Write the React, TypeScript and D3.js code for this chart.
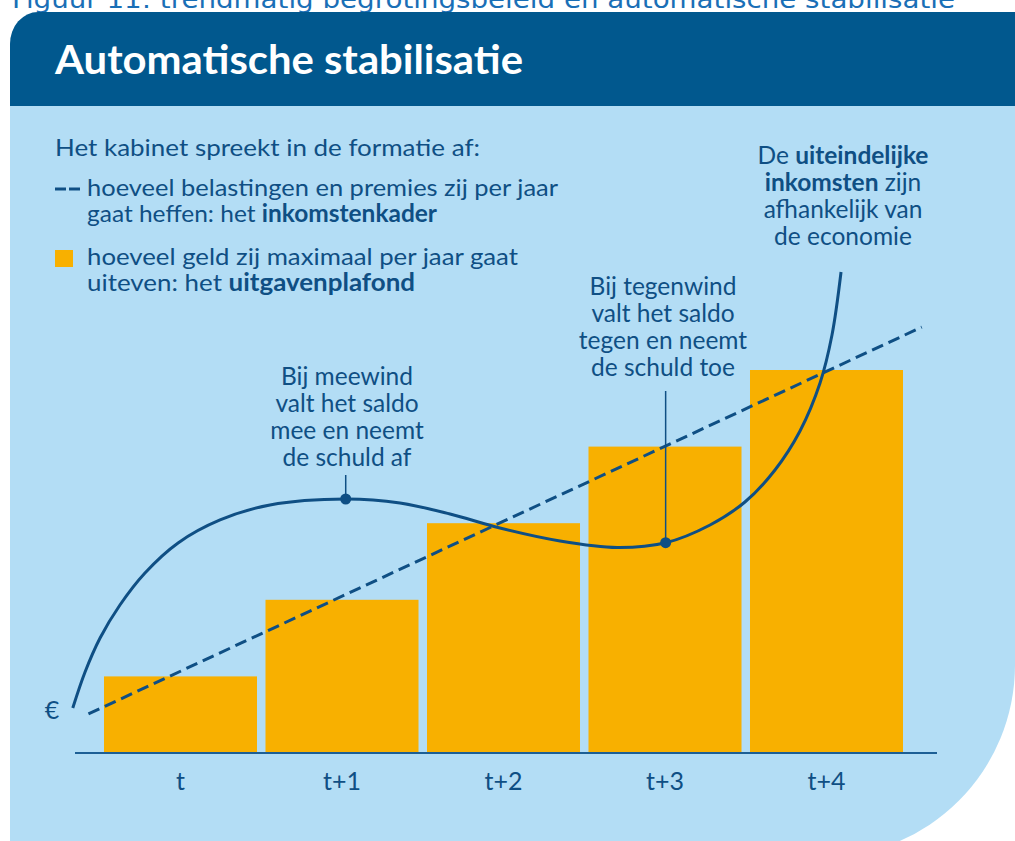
import React from "react";
import * as d3 from "d3";

// ---- Data ----
const categories = ["t", "t+1", "t+2", "t+3", "t+4"];
// uitgavenplafond (bars), arbitrary units
const spendingCeiling = [1, 2, 3, 4, 5];
// inkomstenkader (dashed trend line) — [position in periods, value]
const revenueFramework: [number, number][] = [
  [-0.57, 0.51],
  [4.59, 5.56],
];
// uiteindelijke inkomsten (solid curve) — [position in periods, value]
const actualRevenue: [number, number][] = [
  [-0.667, 0.587],
  [-0.591, 1.057],
  [-0.498, 1.501],
  [-0.375, 1.932],
  [-0.22, 2.35],
  [-0.015, 2.742],
  [0.245, 3.042],
  [0.554, 3.238],
  [1.023, 3.316],
  [1.359, 3.264],
  [1.669, 3.12],
  [1.978, 2.937],
  [2.35, 2.768],
  [2.703, 2.683],
  [3.004, 2.745],
  [3.279, 2.977],
  [3.495, 3.277],
  [3.681, 3.695],
  [3.836, 4.204],
  [3.96, 4.83],
  [4.034, 5.457],
  [4.09, 6.279],
];
// highlighted points on the curve
const markers: [number, number][] = [
  [1.023, 3.316],
  [3.004, 2.745],
];

const captionText = "Figuur 11: trendmatig begrotingsbeleid en automatische stabilisatie";
const titleText = "Automatische stabilisatie";
const legendIntro = "Het kabinet spreekt in de formatie af:";
const legendRevenue = ["hoeveel belastingen en premies zij per jaar", "gaat heffen: het ", "inkomstenkader"];
const legendSpending = ["hoeveel geld zij maximaal per jaar gaat", "uiteven: het ", "uitgavenplafond"];
const noteTailwind = ["Bij meewind", "valt het saldo", "mee en neemt", "de schuld af"];
const noteHeadwind = ["Bij tegenwind", "valt het saldo", "tegen en neemt", "de schuld toe"];
const currencyLabel = "€";

// ---- Style ----
const W = 1015;
const H = 841;
const HEADER = "#01588e";
const PANEL = "#b3ddf5";
const BAR = "#f8b000";
const NAVY = "#0f4f84";
const CAPTION = "#1a6fb6";
const FONT = "Lato, 'Open Sans', sans-serif";

export default function App() {
  const x = d3
    .scaleBand<string>()
    .domain(categories)
    .range([99.75, 907.25])
    .paddingInner(0.0526)
    .paddingOuter(0.0263);
  const y = d3.scaleLinear().domain([0, 5]).range([753, 370]);
  const c0 = (x(categories[0]) as number) + x.bandwidth() / 2;
  const c4 = (x(categories[4]) as number) + x.bandwidth() / 2;
  const xc = d3.scaleLinear().domain([0, 4]).range([c0, c4]);

  const curve = d3
    .line<[number, number]>()
    .x((d) => xc(d[0]))
    .y((d) => y(d[1]))
    .curve(d3.curveCatmullRom.alpha(0.5));
  const straight = d3
    .line<[number, number]>()
    .x((d) => xc(d[0]))
    .y((d) => y(d[1]));

  const headerPath = `M10,106 V44 A28,32 0 0 1 38,12 H${W} V106 Z`;
  const panelPath = `M10,106 H${W} V665 A192,192 0 0 1 823,857 H10 Z`;

  const lh = 27;

  return (
    <svg
      width={W}
      height={H}
      viewBox={`0 0 ${W} ${H}`}
      style={{ position: "absolute", left: 0, top: 0, display: "block", background: "#fff" }}
      fontFamily={FONT}
    >
      <rect x={0} y={0} width={W} height={H} fill="#fff" />
      {/* caption cut off at top */}
      <text
        x={12}
        y={8}
        fontFamily="'DejaVu Sans', Verdana, sans-serif"
        fontSize={24}
        fill={CAPTION}
        textLength={943}
        lengthAdjust="spacingAndGlyphs"
      >
        {captionText}
      </text>

      <path d={panelPath} fill={PANEL} />
      <path d={headerPath} fill={HEADER} />
      <text
        x={55}
        y={74}
        fontSize={40}
        fontWeight={700}
        fill="#fff"
        textLength={468}
        lengthAdjust="spacingAndGlyphs"
      >
        {titleText}
      </text>

      {/* legend */}
      <g fill={NAVY} fontSize={24}>
        <text x={55} y={156} textLength={425} lengthAdjust="spacingAndGlyphs">
          {legendIntro}
        </text>
        <line x1={55} x2={66} y1={189} y2={189} stroke={NAVY} strokeWidth={3} />
        <line x1={69} x2={80} y1={189} y2={189} stroke={NAVY} strokeWidth={3} />
        <text x={87} y={196} textLength={471} lengthAdjust="spacingAndGlyphs">
          {legendRevenue[0]}
        </text>
        <text x={87} y={222} textLength={350} lengthAdjust="spacingAndGlyphs">
          {legendRevenue[1]}
          <tspan fontWeight={700}>{legendRevenue[2]}</tspan>
        </text>
        <rect x={55} y={250} width={18} height={17} fill={BAR} />
        <text x={87} y={265} textLength={431} lengthAdjust="spacingAndGlyphs">
          {legendSpending[0]}
        </text>
        <text x={87} y={291} textLength={328} lengthAdjust="spacingAndGlyphs">
          {legendSpending[1]}
          <tspan fontWeight={700}>{legendSpending[2]}</tspan>
        </text>
      </g>

      {/* bars */}
      {categories.map((c, i) => (
        <rect
          key={c}
          x={x(c)}
          y={y(spendingCeiling[i])}
          width={x.bandwidth()}
          height={y(0) - y(spendingCeiling[i])}
          fill={BAR}
        />
      ))}

      {/* axis */}
      <line x1={75} x2={937} y1={y(0)} y2={y(0)} stroke="#1d5f95" strokeWidth={2} />
      {categories.map((c) => (
        <text
          key={c}
          x={(x(c) as number) + x.bandwidth() / 2}
          y={790}
          textAnchor="middle"
          fontSize={25}
          fill={NAVY}
        >
          {c}
        </text>
      ))}
      <text x={52} y={719} textAnchor="middle" fontSize={25} fill={NAVY}>
        {currencyLabel}
      </text>

      {/* revenue framework dashed */}
      <path
        d={straight(revenueFramework) || ""}
        fill="none"
        stroke={NAVY}
        strokeWidth={3}
        strokeDasharray="12 6"
      />
      {/* actual revenue */}
      <path d={curve(actualRevenue) || ""} fill="none" stroke={NAVY} strokeWidth={3} />

      {/* leaders + markers */}
      <line
        x1={xc(markers[0][0])}
        x2={xc(markers[0][0])}
        y1={475}
        y2={y(markers[0][1])}
        stroke={NAVY}
        strokeWidth={1.5}
      />
      <line
        x1={xc(markers[1][0])}
        x2={xc(markers[1][0])}
        y1={391}
        y2={y(markers[1][1])}
        stroke={NAVY}
        strokeWidth={1.5}
      />
      {markers.map((m, i) => (
        <circle key={i} cx={xc(m[0])} cy={y(m[1])} r={5.5} fill={NAVY} />
      ))}

      {/* annotations */}
      <g fill={NAVY} fontSize={24.5} textAnchor="middle">
        {noteTailwind.map((t, i) => (
          <text key={t} x={347} y={385 + i * lh}>
            {t}
          </text>
        ))}
        {noteHeadwind.map((t, i) => (
          <text key={t} x={663} y={295 + i * lh}>
            {t}
          </text>
        ))}
        <text x={843} y={164}>
          De <tspan fontWeight={700}>uiteindelijke</tspan>
        </text>
        <text x={843} y={164 + lh}>
          <tspan fontWeight={700}>inkomsten</tspan> zijn
        </text>
        <text x={843} y={164 + 2 * lh}>afhankelijk van</text>
        <text x={843} y={164 + 3 * lh}>de economie</text>
      </g>
    </svg>
  );
}
